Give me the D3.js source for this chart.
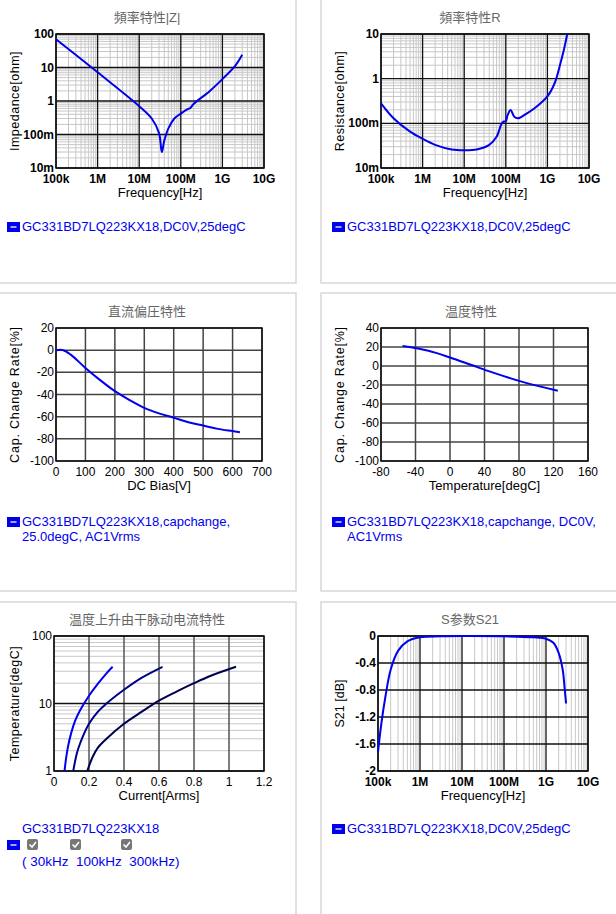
<!DOCTYPE html>
<html><head><meta charset="utf-8">
<script src="https://cdn.jsdelivr.net/npm/d3@7"></script>
<style>
body{margin:0;background:#fff;font-family:Arial,"Liberation Sans",sans-serif;}
svg text{font-family:Arial,"Liberation Sans","Noto Sans CJK SC",sans-serif;}
</style></head><body>
<svg id="c" width="616" height="914"></svg>
<script>
// --- données ---
const zFreq = [1e5,1e6,1e7,2e7,3e7,3.5e7,4e7,5e7,7e7,1e8,1.5e8,1.7e8,2e8,5e8,1e9,2e9,3e9];
const zVal  = [70,7.2,0.7,0.3,0.11,0.03,0.065,0.15,0.3,0.42,0.58,0.62,0.8,2,4.5,11,24];
const rFreq = [1e5,2e5,5e5,1e6,2e6,5e6,1e7,2e7,4e7,6e7,8e7,9e7,1e8,1.1e8,1.3e8,1.6e8,2e8,3e8,5e8,1e9,1.5e9,2e9,2.5e9,3e9];
const rVal  = [0.28,0.13,0.065,0.045,0.033,0.026,0.025,0.026,0.033,0.05,0.1,0.11,0.11,0.15,0.2,0.14,0.13,0.16,0.22,0.4,0.8,2,4.5,10];
const dcBias = [0,25,50,100,150,200,250,300,350,400,450,500,550,600,625];
const dcCap  = [0,0,-4,-16,-27,-37,-45,-52,-57,-61,-65,-68,-71,-73,-74];
const temps   = [-55,-25,0,25,50,85,125];
const tempCap = [21,16,9,1,-7,-17,-26];
const rip30I  = [0.06,0.07,0.08,0.1,0.12,0.15,0.2,0.25,0.3,0.335];
const rip30T  = [1,1.6,2.3,3.8,5.5,8,13,19.5,28,35];
const rip100I = [0.11,0.13,0.15,0.2,0.25,0.3,0.4,0.5,0.62];
const rip100T = [1,1.8,2.6,5,7.5,10,16,24,35];
const rip300I = [0.19,0.22,0.25,0.3,0.4,0.5,0.6,0.7,0.8,0.9,1.04];
const rip300T = [1,1.6,2.2,3,5,7.5,11,15,20,26,35];
const sFreq = [1e5,1.2e5,1.5e5,2e5,3e5,5e5,1e6,3e6,1e7,1e8,5e8,1e9,1.5e9,2e9,2.5e9,2.8e9,3e9];
const sVal  = [-1.72,-1.3,-0.9,-0.5,-0.22,-0.08,-0.02,-0.005,0,-0.005,-0.02,-0.04,-0.1,-0.25,-0.5,-0.8,-1.0];
const freqTicks = [1e5,1e6,1e7,1e8,1e9,1e10];
const freqLabels = ['100k','1M','10M','100M','1G','10G'];

const svg = d3.select('#c');

// cadres des panneaux
[[-10,-10,306,293],[321,-10,306,293],[-10,293,306,298],[321,293,306,298],[-10,602,306,330],[321,602,306,330]]
  .forEach(([x,y,w,h]) => svg.append('rect').attr('x',x).attr('y',y).attr('width',w).attr('height',h)
    .attr('fill','none').attr('stroke','#d8d8d8').attr('stroke-width',1.5));

function logMinors(domain){
    const out=[];
    for(let d=Math.log10(domain[0]); d<Math.log10(domain[1]); d++)
        for(let k=2;k<10;k++) out.push(k*Math.pow(10,d));
    return out;
}

function panel(o){
    const g = svg.append('g');
    const x = (o.xlog?d3.scaleLog():d3.scaleLinear()).domain(o.xd).range([o.x0,o.x1]);
    const y = (o.ylog?d3.scaleLog():d3.scaleLinear()).domain(o.yd).range([o.y1,o.y0]);
    g.append('text').attr('x',o.tx).attr('y',o.y0-12).attr('text-anchor','middle')
        .attr('font-size',13).attr('fill','#666').text(o.title);
    // grille mineure
    if(o.xlog) logMinors(o.xd).forEach(v=>g.append('line').attr('x1',x(v)).attr('x2',x(v))
        .attr('y1',o.y0).attr('y2',o.y1).attr('stroke','#c8c8c8'));
    if(o.ylog) logMinors(o.yd).forEach(v=>g.append('line').attr('y1',y(v)).attr('y2',y(v))
        .attr('x1',o.x0).attr('x2',o.x1).attr('stroke','#c8c8c8'));
    const gc = o.gridColor||'#111';
    o.xt.forEach(v=>g.append('line').attr('x1',x(v)).attr('x2',x(v)).attr('y1',o.y0).attr('y2',o.y1)
        .attr('stroke',o.xlog?'#111':gc).attr('stroke-width',o.xlog?1.3:1.5));
    o.yt.forEach(v=>g.append('line').attr('y1',y(v)).attr('y2',y(v)).attr('x1',o.x0).attr('x2',o.x1)
        .attr('stroke',o.ylog?'#111':gc).attr('stroke-width',o.ylog?1.3:1.5));
    g.append('rect').attr('x',o.x0).attr('y',o.y0).attr('width',o.x1-o.x0).attr('height',o.y1-o.y0)
        .attr('fill','none').attr('stroke','#111').attr('stroke-width',1.5);
    const fw = o.bold?'bold':'normal';
    o.xt.forEach((v,i)=>g.append('text').attr('x',x(v)).attr('y',o.y1+15).attr('text-anchor','middle')
        .attr('font-size',12).attr('font-weight',fw).text(o.xl[i]));
    o.yt.forEach((v,i)=>g.append('text').attr('x',o.x0-2).attr('y',y(v)+4).attr('text-anchor','end')
        .attr('font-size',12).attr('font-weight',fw).text(o.yl[i]));
    g.append('text').attr('x',(o.x0+o.x1)/2).attr('y',o.y1+29).attr('text-anchor','middle')
        .attr('font-size',13).text(o.xlabel);
    g.append('text').attr('transform',`translate(${o.ylx},${(o.y0+o.y1)/2}) rotate(-90)`)
        .attr('text-anchor','middle').attr('font-size',12.5).attr('letter-spacing',o.ls||0).text(o.ylabel);
    const line = d3.line().x(d=>x(d[0])).y(d=>y(d[1])).curve(d3.curveCatmullRom.alpha(0.5));
    o.series.forEach(s=>g.append('path').attr('d',line(d3.zip(s.x,s.y)))
        .attr('fill','none').attr('stroke',s.c).attr('stroke-width',2));
    return g;
}

function legend(x,y,lines){
    svg.append('rect').attr('x',x).attr('y',y-9).attr('width',13).attr('height',10).attr('fill','#0000ee');
    svg.append('line').attr('x1',x+3.5).attr('x2',x+9.5).attr('y1',y-4).attr('y2',y-4).attr('stroke','#ddd').attr('stroke-width',1.5);
    lines.forEach((t,i)=>svg.append('text').attr('x',x+15).attr('y',y+i*15).attr('font-size',13)
        .attr('fill','#0000ee').text(t));
}

panel({title:'頻率特性|Z|',tx:147,x0:56,x1:264,y0:34,y1:168,xlog:true,ylog:true,xd:[1e5,1e10],yd:[0.01,100],
    xt:freqTicks,xl:freqLabels,yt:[0.01,0.1,1,10,100],yl:['10m','100m','1','10','100'],bold:true,
    xlabel:'Frequency[Hz]',ylabel:'Impedance[ohm]',ylx:19,ls:0.5,
    series:[{x:zFreq,y:zVal,c:'#0000ee'}]});
legend(7,231,['GC331BD7LQ223KX18,DC0V,25degC']);

panel({title:'頻率特性R',tx:470,x0:381,x1:589,y0:34,y1:168,xlog:true,ylog:true,xd:[1e5,1e10],yd:[0.01,10],
    xt:freqTicks,xl:freqLabels,yt:[0.01,0.1,1,10],yl:['10m','100m','1','10'],bold:true,
    xlabel:'Frequency[Hz]',ylabel:'Resistance[ohm]',ylx:344,ls:0.5,
    series:[{x:rFreq,y:rVal,c:'#0000ee'}]});
legend(332,231,['GC331BD7LQ223KX18,DC0V,25degC']);

panel({title:'直流偏圧特性',tx:147,x0:56,x1:262,y0:328,y1:461,xd:[0,700],yd:[-100,20],
    xt:d3.range(0,701,100),xl:d3.range(0,701,100).map(String),yt:d3.range(-100,21,20),yl:d3.range(-100,21,20).map(String),
    gridColor:'#444',xlabel:'DC Bias[V]',ylabel:'Cap.  Change Rate[%]',ylx:19,ls:0.8,
    series:[{x:dcBias,y:dcCap,c:'#0000ee'}]});
legend(7,526,['GC331BD7LQ223KX18,capchange,','25.0degC, AC1Vrms']);

panel({title:'温度特性',tx:471,x0:381,x1:588,y0:328,y1:461,xd:[-80,160],yd:[-100,40],
    xt:d3.range(-80,161,40),xl:d3.range(-80,161,40).map(String),yt:d3.range(-100,41,20),yl:d3.range(-100,41,20).map(String),
    gridColor:'#444',xlabel:'Temperature[degC]',ylabel:'Cap.  Change Rate[%]',ylx:344,ls:0.8,
    series:[{x:temps,y:tempCap,c:'#0000ee'}]});
legend(332,526,['GC331BD7LQ223KX18,capchange, DC0V,','AC1Vrms']);

panel({title:'温度上升由干脉动电流特性',tx:147,x0:54,x1:264,y0:636,y1:771,ylog:true,xd:[0,1.2],yd:[1,100],
    xt:d3.range(0,1.21,0.2),xl:['0','0.2','0.4','0.6','0.8','1','1.2'],yt:[1,10,100],yl:['1','10','100'],
    gridColor:'#555',xlabel:'Current[Arms]',ylabel:'Temperature[degC]',ylx:19,ls:0.5,
    series:[{x:rip30I,y:rip30T,c:'#0000ee'},{x:rip100I,y:rip100T,c:'#000088'},{x:rip300I,y:rip300T,c:'#000050'}]});
svg.append('text').attr('x',22).attr('y',833).attr('font-size',13).attr('fill','#0000ee').text('GC331BD7LQ223KX18');
svg.append('rect').attr('x',7).attr('y',840).attr('width',13).attr('height',10).attr('fill','#0000ee');
svg.append('line').attr('x1',10.5).attr('x2',16.5).attr('y1',845).attr('y2',845).attr('stroke','#ddd').attr('stroke-width',1.5);
[27,70,121].forEach(cx=>{
    svg.append('rect').attr('x',cx).attr('y',839).attr('width',11).attr('height',11).attr('rx',2).attr('fill','#777');
    svg.append('path').attr('d',`M${cx+2.5},844.5l2.5,2.5l4,-5`).attr('fill','none').attr('stroke','#fff').attr('stroke-width',1.6);
});
svg.append('text').attr('x',22).attr('y',866).attr('font-size',13.5).attr('fill','#0000ee')
    .attr('xml:space','preserve').text('( 30kHz  100kHz  300kHz)');

panel({title:'S参数S21',tx:470,x0:378,x1:588,y0:636,y1:771,xlog:true,xd:[1e5,1e10],yd:[-2,0],
    xt:freqTicks,xl:freqLabels,yt:d3.range(-2,0.01,0.4),yl:['-2','-1.6','-1.2','-0.8','-0.4','0'],bold:true,
    gridColor:'#111',xlabel:'Frequency[Hz]',ylabel:'S21 [dB]',ylx:344,
    series:[{x:sFreq,y:sVal,c:'#0000ee'}]});
legend(332,833,['GC331BD7LQ223KX18,DC0V,25degC']);
</script>
</body></html>
